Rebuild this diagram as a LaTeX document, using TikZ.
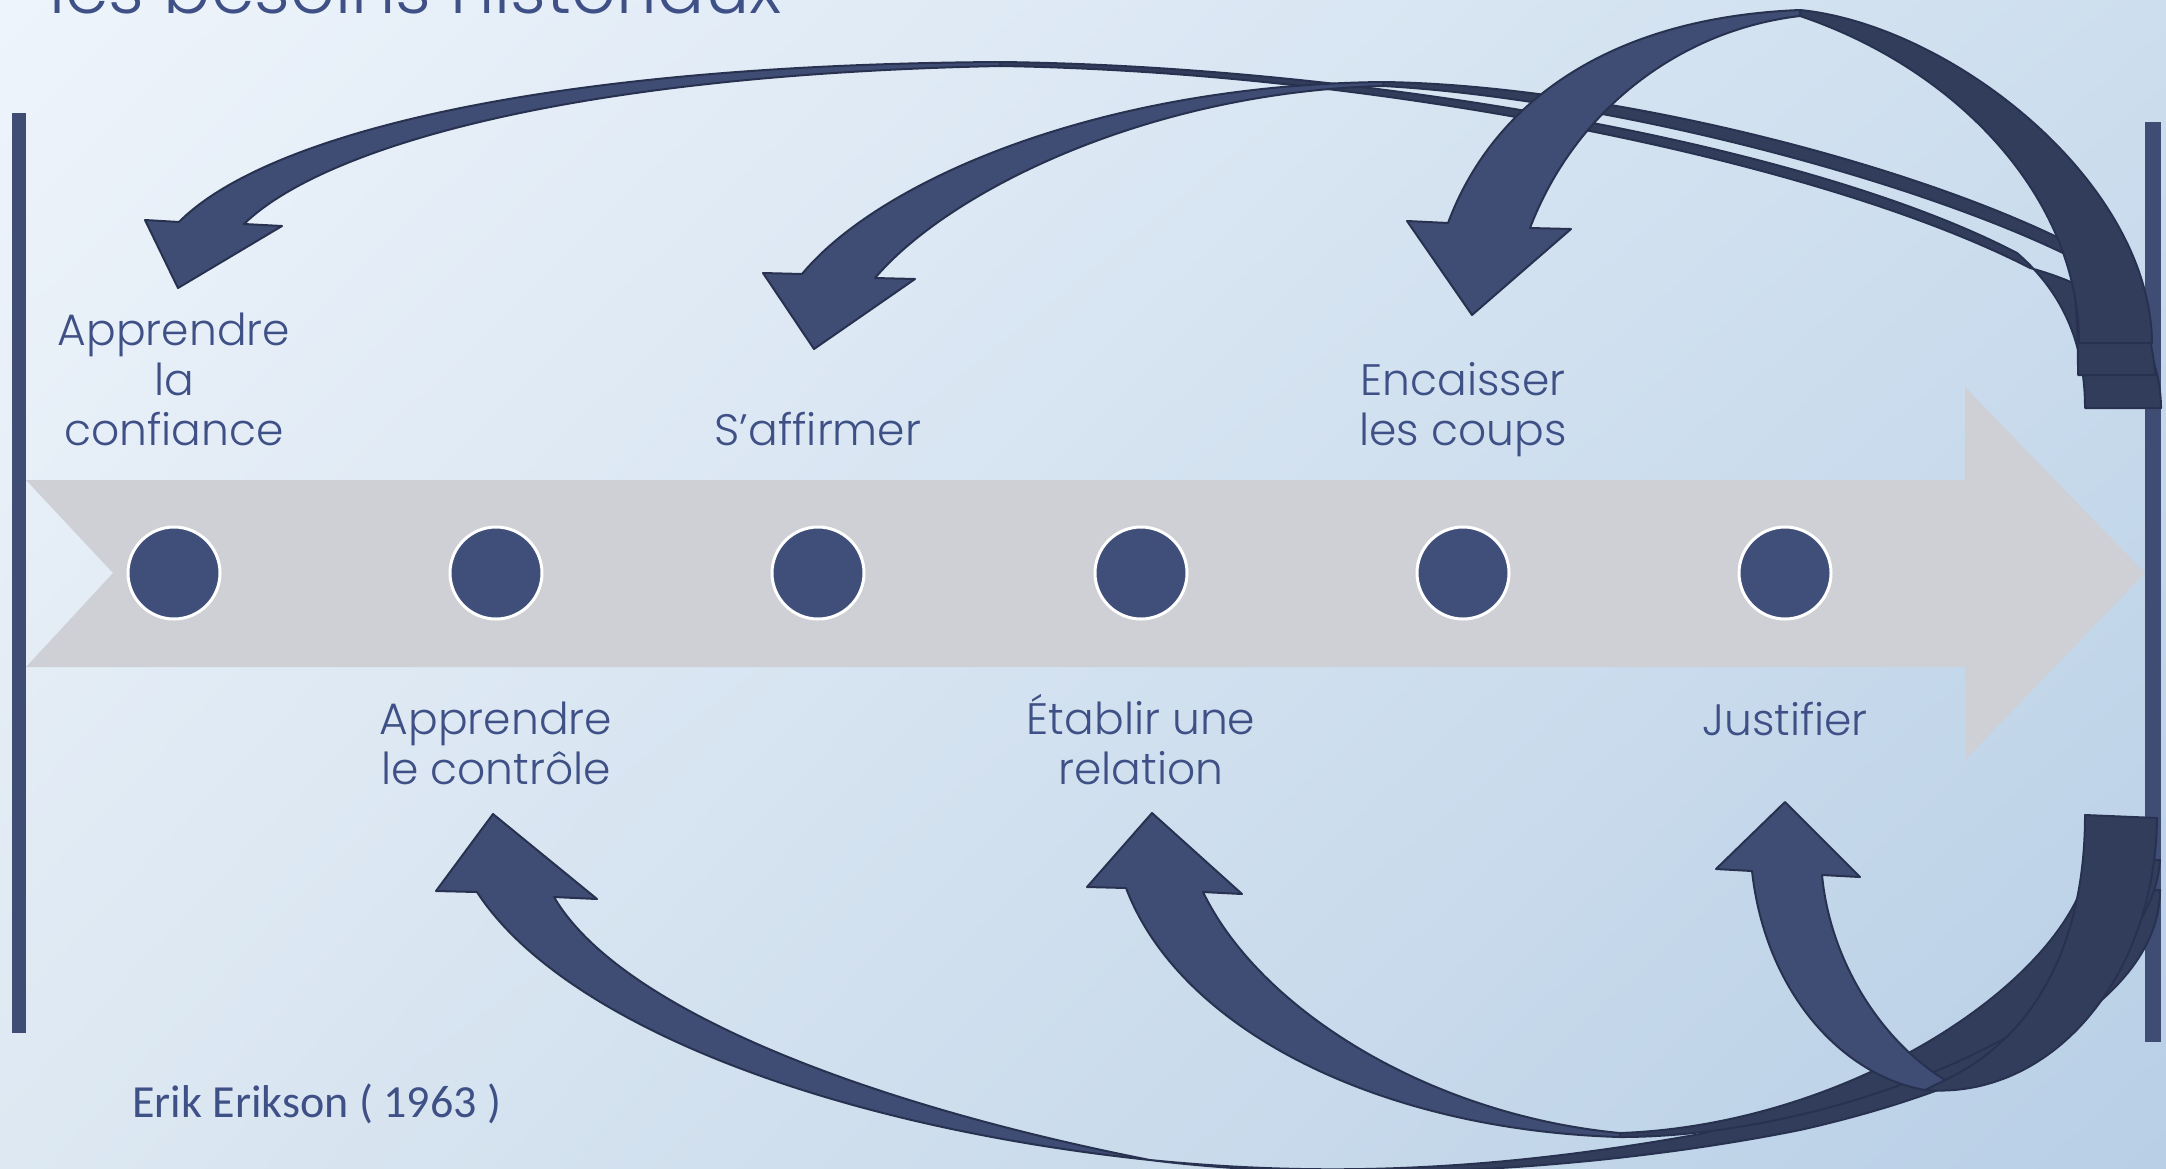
\documentclass[tikz,border=0pt]{standalone}
\usepackage{fontspec}
\usetikzlibrary{shadings}
\setmainfont{Poppins Light}
\newfontfamily\srcfont{Carlito}
\definecolor{fondA}{RGB}{238,244,251}
\definecolor{fondB}{RGB}{205,222,238}
\definecolor{fondC}{RGB}{221,232,242}
\definecolor{fondD}{RGB}{184,207,230}
\definecolor{bleu}{RGB}{63,77,117}
\definecolor{bleufonce}{RGB}{50,61,92}
\definecolor{bord}{RGB}{40,50,80}
\definecolor{pastille}{RGB}{64,79,122}
\definecolor{gris}{RGB}{207,208,213}
\definecolor{texte}{RGB}{62,80,133}
\tikzset{
  devant/.style={fill=bleu, draw=bord, line width=1pt, line join=round},
  dessous/.style={fill=bleufonce, draw=bord, line width=1pt, line join=round},
  jalon/.style={circle, fill=pastille, draw=white, line width=1.5pt, minimum size=46pt, inner sep=0pt},
  etiq/.style={text=texte, align=center, inner sep=0pt, anchor=base, font=\fontsize{22}{25}\selectfont},
}
\begin{document}
\begin{tikzpicture}[x=0.5pt,y=-0.5pt,line join=round]
	\clip (0,0) rectangle (2166,1168);
	\useasboundingbox (0,0) rectangle (2166,1168);
	\shade[upper left=fondA, upper right=fondB, lower left=fondC, lower right=fondD] (0,0) rectangle (2166,1168);
	\node[text=texte, anchor=base west, inner sep=0pt, font=\fontsize{35}{40}\selectfont] (titre) at (49,13) {les besoins historiaux};
% la frise
	\fill[gris] (26,480) -- (1965,480) -- (1965,387) -- (2145,573) -- (1965,760) -- (1965,667) -- (26,667) -- (113,573) -- cycle;
	\fill[bleu] (12,113) rectangle (26,1033);
	\fill[bleu] (2145,122) rectangle (2161,1042);
	\foreach \i/\x in {1/174,2/496,3/818,4/1141,5/1463,6/1785}
		\node[jalon] (c\i) at (\x,573) {};
	\node[etiq] (l1) at (174,445) {Apprendre\\la\\confiance};
	\node[etiq] (l3) at (818,445) {S’affirmer};
	\node[etiq] (l5) at (1463,445) {Encaisser\\les coups};
	\node[etiq] (l2) at (496,784) {Apprendre\\le contrôle};
	\node[etiq] (l4) at (1141,784) {Établir une\\relation};
	\node[etiq] (l6) at (1785,735) {Justifier};
	\node[text=texte, anchor=base west, inner sep=0pt, font=\srcfont\fontsize{23}{28}\selectfont] (src) at (132,1117) {Erik Erikson ( 1963 )};
% fleches du haut
	\coordinate (t1) at (178,288);
	\coordinate (t2) at (814,349);
	\coordinate (t3) at (1472,315);
	\draw[dessous] (1000,62) .. controls (1350,66) and (1800,140) .. (2017,253)
		.. controls (2060,290) and (2085,340) .. (2085,408) -- (2161,408)
		.. controls (2160,330) and (2110,290) .. (2030,268)
		.. controls (1820,160) and (1380,72) .. (1000,66) -- cycle;
	\draw[devant] (1000,62) .. controls (520,65) and (260,140) .. (179,222) -- (145,220) -- (t1) -- (282,226) -- (244,224)
		.. controls (320,150) and (560,75) .. (1000,66) -- cycle;
	\draw[dessous] (1383,82) .. controls (1600,85) and (1900,160) .. (2063,240)
		.. controls (2075,270) and (2078,320) .. (2078,375) -- (2155,375)
		.. controls (2150,290) and (2100,255) .. (2063,253)
		.. controls (1900,175) and (1600,98) .. (1383,86) -- cycle;
	\draw[devant] (1383,82) .. controls (1100,85) and (880,180) .. (802,274) -- (763,273) -- (t2) -- (915,279) -- (875,278)
		.. controls (950,190) and (1150,92) .. (1383,86) -- cycle;
	\draw[dessous] (1800,10) .. controls (1950,25) and (2150,180) .. (2152,343) -- (2079,343)
		.. controls (2079,200) and (1960,70) .. (1800,16) -- cycle;
	\draw[devant] (1800,10) .. controls (1600,18) and (1490,110) .. (1448,223) -- (1407,221) -- (t3) -- (1571,229) -- (1530,228)
		.. controls (1575,110) and (1680,30) .. (1800,16) -- cycle;
% fleches du bas
	\coordinate (t4) at (493,814);
	\coordinate (t5) at (1152,813);
	\coordinate (t6) at (1785,802);
	\draw[dessous] (1150,1160) .. controls (1350,1185) and (1600,1170) .. (1800,1130)
		.. controls (2000,1085) and (2160,1000) .. (2160,890) -- (2095,890)
		.. controls (2080,990) and (1900,1080) .. (1700,1134)
		.. controls (1500,1170) and (1330,1178) .. (1150,1160) -- cycle;
	\draw[devant] (1150,1160) .. controls (820,1125) and (560,1020) .. (477,892) -- (436,891) -- (t4) -- (597,899) -- (554,897)
		.. controls (620,1010) and (870,1105) .. (1150,1160) -- cycle;
	\draw[dessous] (1620,1137) .. controls (1850,1137) and (2150,1010) .. (2160,860) -- (2090,860)
		.. controls (2070,980) and (1850,1125) .. (1620,1133) -- cycle;
	\draw[devant] (1620,1137) .. controls (1380,1130) and (1180,1030) .. (1126,888) -- (1087,887) -- (t5) -- (1242,894) -- (1203,892)
		.. controls (1260,1010) and (1430,1115) .. (1620,1133) -- cycle;
	\draw[dessous] (1925,1090) .. controls (2050,1100) and (2155,980) .. (2157,818) -- (2085,815)
		.. controls (2085,950) and (2030,1040) .. (1945,1080) -- cycle;
	\draw[devant] (1925,1090) .. controls (1840,1075) and (1765,990) .. (1752,871) -- (1716,869) -- (t6) -- (1860,877) -- (1822,875)
		.. controls (1830,960) and (1880,1040) .. (1945,1080) -- cycle;
\end{tikzpicture}
\end{document}
